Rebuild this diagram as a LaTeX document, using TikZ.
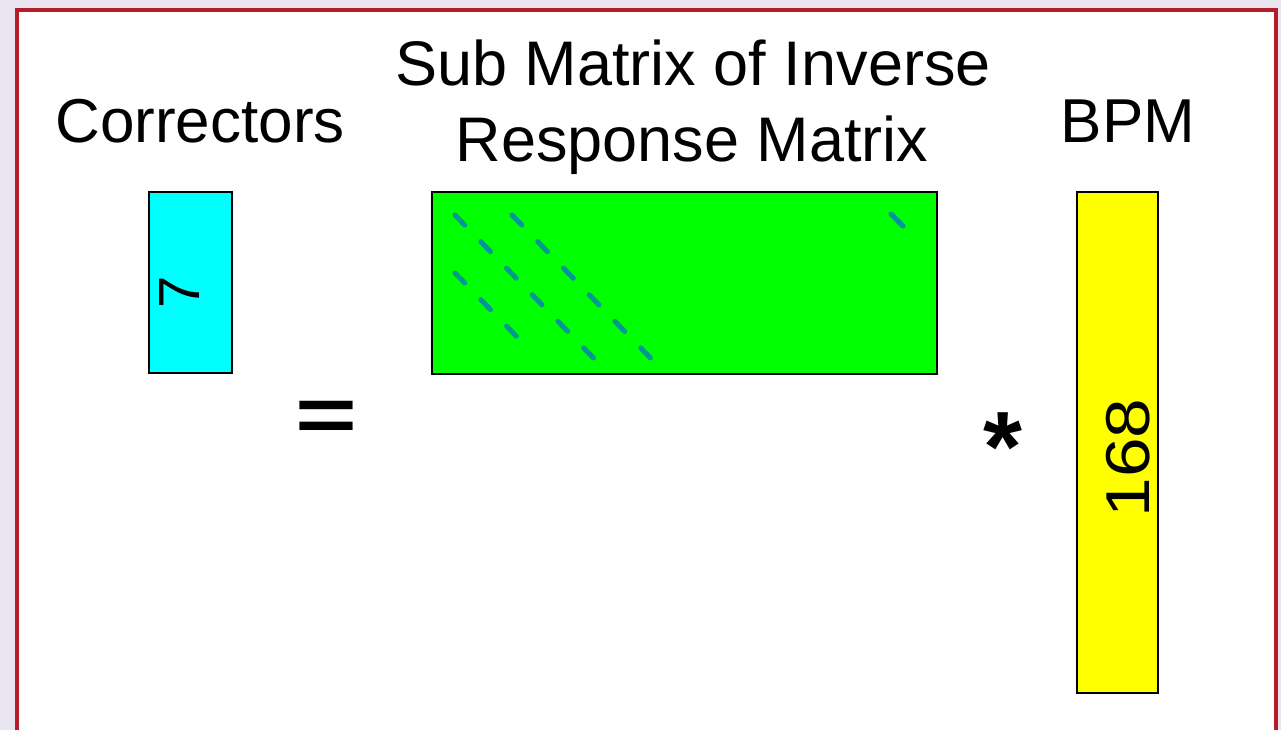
\documentclass[tikz,border=0pt]{standalone}
\usepackage{fontspec}
\setmainfont{Liberation Sans}
\definecolor{bgcol}{RGB}{232,228,240}
\definecolor{framered}{RGB}{180,28,40}
\definecolor{dashcol}{RGB}{0,150,150}
\definecolor{boxcyan}{RGB}{0,255,255}
\definecolor{boxgreen}{RGB}{0,255,0}
\definecolor{boxyellow}{RGB}{255,255,0}
\begin{document}
\begin{tikzpicture}[x=1pt,y=-1pt,
  matbox/.style={draw=black, line width=2pt, inner sep=0pt},
  title/.style={font=\fontsize{62}{62}\selectfont, anchor=base, inner sep=0pt},
  diag/.style={dashcol, line width=5pt, line cap=round, dash pattern=on 14pt off 23pt}]
\useasboundingbox (0,0) rectangle (1281,730);
\fill[bgcol] (0,0) rectangle (1281,730);
\fill[white] (17,10) rectangle (1276,734);
\draw[framered, line width=4pt] (17,10) rectangle (1276,736);
% boxes
\node[matbox, fill=boxcyan, minimum width=83pt, minimum height=181pt] (corr) at (190.5,282.5) {};
\node[matbox, fill=boxgreen, minimum width=505pt, minimum height=182pt] (mat) at (684.5,283) {};
\node[matbox, fill=boxyellow, minimum width=81pt, minimum height=501pt] (bpm) at (1117.5,442.5) {};
% titles
\node[title] (tcorr) at (200,143) {Correctors};
\node[title, font=\fontsize{63}{63}\selectfont] (tsub1) at (693,86) {Sub Matrix of Inverse};
\node[title, font=\fontsize{63}{63}\selectfont] (tsub2) at (692,162) {Response Matrix};
\node[title] (tbpm) at (1128,143) {BPM};
% inner labels
\node[font=\fontsize{58}{58}\selectfont, rotate=90, inner sep=0pt] (n7) at (180,292) {7};
\node[font=\fontsize{62}{62}\selectfont, rotate=90, inner sep=0pt] (n168) at (1128,458) {\scalebox{1.15}[1]{168}};
% operators
\node[font=\fontsize{106}{106}\selectfont\bfseries, inner sep=0pt, anchor=base] (eq) at (326,441) {\scalebox{1}[0.73]{=}};
\node[font=\fontsize{100}{100}\selectfont\bfseries, inner sep=0pt, anchor=north] (ast) at (1003,412) {*};
% diagonal dashes
\coordinate (d1s) at (455,215); \coordinate (d1e) at (607,372);
\coordinate (d2s) at (512,215); \coordinate (d2e) at (664,372);
\coordinate (d3s) at (455,273); \coordinate (d3e) at (520,340);
\coordinate (d4s) at (891,214); \coordinate (d4e) at (903,226);
\draw[diag] (d1s) -- (d1e);
\draw[diag] (d2s) -- (d2e);
\draw[diag] (d3s) -- (d3e);
\draw[diag, dash pattern=] (d4s) -- (d4e);
\end{tikzpicture}
\end{document}
